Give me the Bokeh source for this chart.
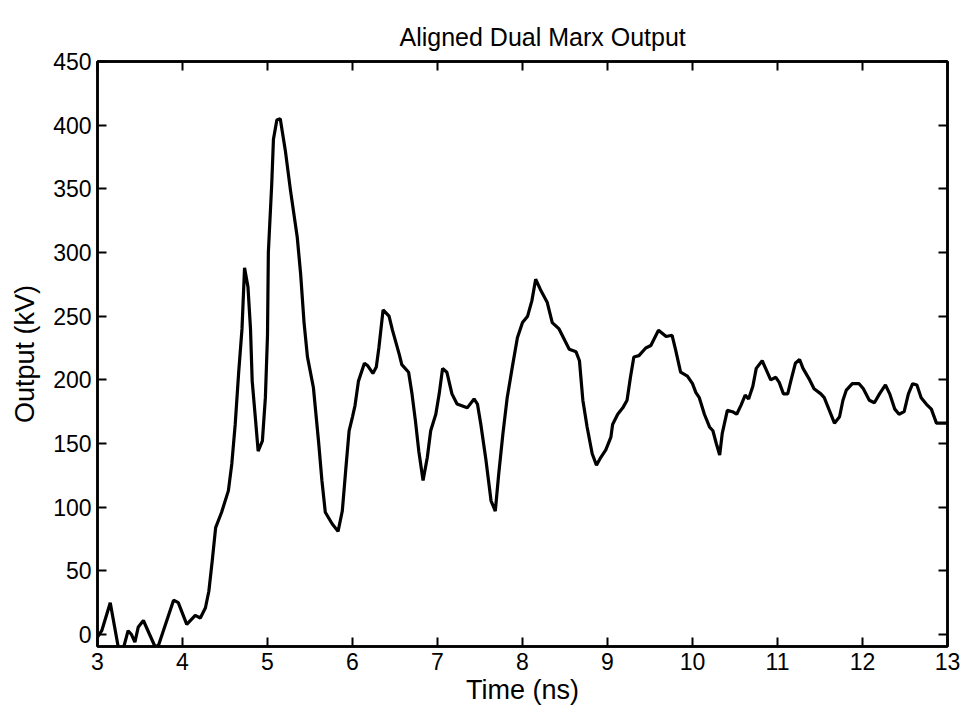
from bokeh.plotting import figure
from bokeh.models import LinearAxis, Range1d, FixedTicker, Title
from bokeh.embed import file_html
from bokeh.resources import INLINE

time_ns = [3.00, 3.05, 3.15, 3.25, 3.30, 3.36, 3.40, 3.44, 3.48, 3.54, 3.60, 3.68, 3.72,
           3.895, 3.95, 4.05, 4.15, 4.21, 4.27, 4.31, 4.35, 4.39, 4.46, 4.54, 4.58, 4.62,
           4.66, 4.70, 4.73, 4.77, 4.80, 4.82, 4.86, 4.89, 4.94, 4.975, 5.00, 5.01, 5.05,
           5.07, 5.11, 5.15, 5.21, 5.27, 5.35, 5.39, 5.43, 5.47, 5.54, 5.60, 5.64, 5.68,
           5.76, 5.83, 5.88, 5.92, 5.96, 6.00, 6.03, 6.07, 6.14, 6.18, 6.24, 6.28, 6.31,
           6.36, 6.43, 6.47, 6.55, 6.58, 6.66, 6.70, 6.74, 6.78, 6.83, 6.88, 6.92, 6.98,
           7.02, 7.06, 7.11, 7.17, 7.23, 7.35, 7.43, 7.47, 7.51, 7.57, 7.63, 7.68, 7.72,
           7.77, 7.82, 7.88, 7.94, 8.00, 8.06, 8.11, 8.155, 8.21, 8.29, 8.35, 8.43, 8.55,
           8.63, 8.67, 8.71, 8.76, 8.82, 8.87, 8.92, 8.98, 9.04, 9.06, 9.12, 9.18, 9.23,
           9.27, 9.31, 9.37, 9.45, 9.51, 9.60, 9.69, 9.76, 9.80, 9.86, 9.94, 10.00, 10.04,
           10.08, 10.14, 10.20, 10.24, 10.28, 10.32, 10.35, 10.41, 10.47, 10.52, 10.57,
           10.62, 10.66, 10.71, 10.75, 10.82, 10.86, 10.92, 10.98, 11.02, 11.07, 11.12,
           11.16, 11.21, 11.26, 11.30, 11.37, 11.43, 11.51, 11.55, 11.61, 11.67, 11.73,
           11.77, 11.81, 11.88, 11.96, 12.01, 12.08, 12.14, 12.20, 12.27, 12.32, 12.38,
           12.43, 12.49, 12.54, 12.59, 12.64, 12.69, 12.75, 12.81, 12.87, 12.97, 13.00]
output_kv = [-2, 3, 25, -12, -12, 3, 0, -6, 6, 11, 2, -10, -8,
             27, 25, 8, 15, 13, 21, 34, 58, 84, 96, 113, 134, 165,
             205, 240, 288, 273, 240, 199, 168, 144, 152, 186, 235, 300, 354,
             389, 404, 405, 380, 349, 312, 283, 245, 218, 194, 152, 121, 96,
             87, 81, 97, 129, 160, 171, 180, 199, 213, 211, 205, 210, 225,
             255, 250, 239, 220, 212, 206, 189, 168, 144, 121, 139, 160, 173,
             189, 209, 206, 189, 181, 178, 185, 181, 165, 137, 105, 97, 126,
             158, 186, 210, 233, 245, 250, 262, 279, 271, 261, 245, 240, 224,
             222, 215, 184, 163, 142, 133, 139, 145, 155, 165, 173, 178, 184,
             202, 218, 219, 225, 227, 239, 234, 235, 224, 206, 203, 197, 190,
             186, 173, 163, 160, 150, 141, 158, 176, 175, 173, 180,
             188, 185, 195, 209, 215, 209, 200, 202, 198, 189, 189,
             200, 213, 216, 209, 201, 193, 189, 186, 176, 166, 171,
             184, 192, 197, 197, 193, 184, 182, 189, 196, 189, 177,
             173, 175, 189, 197, 196, 186, 181, 177, 166, 166, 166]

x_ticks = [3, 4, 5, 6, 7, 8, 9, 10, 11, 12, 13]
y_ticks = [0, 50, 100, 150, 200, 250, 300, 350, 400, 450]

FONT = "Liberation Sans"

p = figure(width=966, height=712, output_backend="svg", toolbar_location=None,
           x_range=Range1d(3, 13), y_range=Range1d(-9.4, 450),
           min_border_left=97, min_border_right=19, min_border_top=61, min_border_bottom=66,
           title=None)
p.background_fill_color = "white"
p.border_fill_color = "white"
p.grid.visible = False
p.outline_line_color = "black"
p.outline_line_width = 2.5

p.line(time_ns, output_kv, line_color="black", line_width=3.2)

def style_axis(ax, labels=True):
    ax.axis_line_color = "black"
    ax.axis_line_width = 2.5
    ax.major_tick_in = 9
    ax.major_tick_out = 0
    ax.major_tick_line_width = 2
    ax.major_tick_line_color = "black"
    ax.minor_tick_line_color = None
    ax.major_label_text_font = FONT
    ax.major_label_text_color = "black"
    if labels:
        ax.major_label_text_font_size = "23px"
        ax.major_label_standoff = 6
    else:
        ax.major_label_text_font_size = "0px"
        ax.major_label_standoff = 0

p.xaxis.ticker = FixedTicker(ticks=x_ticks)
p.yaxis.ticker = FixedTicker(ticks=y_ticks)
style_axis(p.xaxis[0])
style_axis(p.yaxis[0])
p.xaxis.axis_label = "Time (ns)"
p.yaxis.axis_label = "Output (kV)"
for ax in (p.xaxis[0], p.yaxis[0]):
    ax.axis_label_text_font = FONT
    ax.axis_label_text_font_size = "27px"
    ax.axis_label_text_font_style = "normal"
    ax.axis_label_text_color = "black"
p.xaxis.axis_label_standoff = 2
p.yaxis.axis_label_standoff = 10

# mirrored tick marks on the top and right edges (no labels)
top_ax = LinearAxis(ticker=FixedTicker(ticks=x_ticks))
style_axis(top_ax, labels=False)
p.add_layout(top_ax, "above")
right_ax = LinearAxis(ticker=FixedTicker(ticks=y_ticks))
style_axis(right_ax, labels=False)
p.add_layout(right_ax, "right")

t = Title(text="Aligned Dual Marx Output", text_font=FONT, text_font_size="25px",
          text_font_style="normal", text_color="black", align="left", offset=302,
          standoff=22)
p.add_layout(t, "above")

open("out.html", "w").write(file_html(p, INLINE))
